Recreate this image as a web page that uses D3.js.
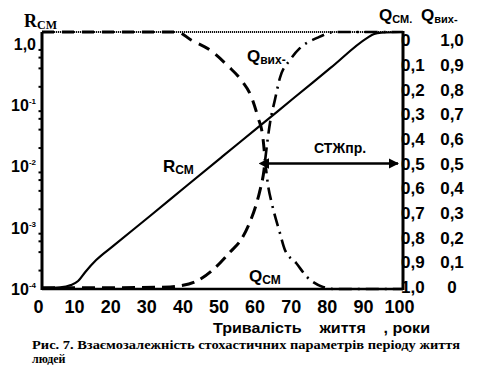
<!DOCTYPE html>
<html><head><meta charset="utf-8">
<script src="https://cdn.jsdelivr.net/npm/d3@7"></script>
<style>
body{margin:0;background:#fff}
text{font-family:"Liberation Sans",Arial,sans-serif;font-weight:bold;fill:#000}
.serif{font-family:"Liberation Serif","Times New Roman",serif}
</style>
</head><body>
<svg id="c" width="491" height="384"></svg>
<script>
// ---- data ----
const xTicks = [0,10,20,30,40,50,60,70,80,90,100];
const rTickValues = [1, 1e-1, 1e-2, 1e-3, 1e-4];
const rTickExp = [null, "-1", "-2", "-3", "-4"];
const qcmTickLabels = ["0","0,1","0,2","0,3","0,4","0,5","0,6","0,7","0,8","0,9","1,0"];
const qvykhTickLabels = ["1,0","0,9","0,8","0,7","0,6","0,5","0,4","0,3","0,2","0,1","0"];

// R_CM (log scale)
const rAges   = [0, 5, 8, 10, 12, 15, 20, 30, 40, 50, 60, 70, 80, 90, 92, 94, 100];
const rValues = [1.03e-4, 1.06e-4, 1.16e-4, 1.35e-4, 1.9e-4, 2.97e-4, 5.2e-4, 1.57e-3, 4.8e-3, 0.0146, 0.0443, 0.135, 0.41, 1.25, 1.46, 1.53, 1.57];

// Q curves, in Q_CM axis units (0 at top, 1 at bottom)
const qTopLeftAges  = [0, 20, 37.4, 41.3, 46.5, 51.5, 55.4, 57.9, 59.8, 61.2, 61.8];
const qTopLeftVals  = [0, 0, 0, 0.031, 0.07, 0.132, 0.191, 0.249, 0.331, 0.412, 0.5];
const qTopRightAges = [61.8, 63.2, 64.5, 65.9, 68.7, 71.5, 76.2, 81.2, 100];
const qTopRightVals = [0.5, 0.35, 0.265, 0.179, 0.109, 0.062, 0.023, 0, 0];
const qBotLeftAges  = [0, 20, 35.5, 38.2, 42.9, 47.9, 52.1, 55.1, 57.6, 59.3, 60.4, 61.5, 61.8];
const qBotLeftVals  = [0.995, 0.995, 0.992, 0.988, 0.969, 0.918, 0.856, 0.809, 0.739, 0.673, 0.615, 0.537, 0.5];
const qBotRightAges = [61.8, 62.6, 63.7, 65.9, 67.3, 70.4, 73.4, 77.8, 81.2, 100];
const qBotRightVals = [0.5, 0.595, 0.669, 0.782, 0.848, 0.899, 0.953, 0.992, 1, 1];

const stzhAge = 61.8;   // СТЖпр.
const stzhQ = 0.5;

// ---- layout ----
const svg = d3.select("#c");
const L = 42, R = 403, T = 32, B = 289;
const x = d3.scaleLinear().domain([0,100]).range([L,R]);
const yR = d3.scaleLog().domain([1e-4, 1.57]).range([B,T]);
const yQ = d3.scaleLinear().domain([0,1]).range([T,B]);
const yQLabel = d3.scaleLinear().domain([0,1]).range([40,287]);

// frame
svg.append("line").attr("x1",L).attr("x2",R).attr("y1",T).attr("y2",T)
  .attr("stroke","#111").attr("stroke-width",1.8).attr("stroke-dasharray","1.2,0.8");
svg.append("line").attr("x1",L).attr("x2",R).attr("y1",B).attr("y2",B)
  .attr("stroke","#000").attr("stroke-width",2.5);
svg.append("line").attr("x1",L).attr("x2",L).attr("y1",T).attr("y2",B+1)
  .attr("stroke","#000").attr("stroke-width",3);
svg.append("line").attr("x1",R).attr("x2",R).attr("y1",T-1).attr("y2",B+1)
  .attr("stroke","#000").attr("stroke-width",3);

// minor ticks on left axis
const minor = [];
for (let e=-4; e<0; e++) for (let m=2; m<10; m+=2) minor.push(m*Math.pow(10,e));
svg.append("g").selectAll("line").data(minor).join("line")
  .attr("x1",L-3.5).attr("x2",L).attr("y1",d=>yR(d)).attr("y2",d=>yR(d))
  .attr("stroke","#000").attr("stroke-width",2);

// x axis
const xAxis = d3.axisBottom(x).tickValues(xTicks).tickSize(0).tickPadding(11).tickFormat(d3.format("d"));
const gx = svg.append("g").attr("transform",`translate(-4,${B})`).call(xAxis);
gx.select(".domain").remove();
gx.selectAll("text").style("font-size","18px").style("font-family","Liberation Sans, Arial, sans-serif").style("font-weight","bold").attr("fill","#000");

// left labels
const gl = svg.append("g");
rTickValues.forEach((v,i)=>{
  const t = gl.append("text").attr("x",36).attr("y",yR(v)).attr("dy","0.36em")
    .attr("text-anchor","end").style("font-size","16px");
  if (rTickExp[i]===null) { t.text("1,0"); }
  else {
    t.append("tspan").text("10");
    t.append("tspan").text(rTickExp[i]).style("font-size","8px").attr("dy","-7");
  }
});

// right labels
svg.append("g").selectAll("text").data(qcmTickLabels).join("text")
  .attr("x",R-2).attr("y",(d,i)=>yQLabel(i/10)).attr("dy","0.36em")
  .style("font-size","17px").text(d=>d);
svg.append("g").selectAll("text").data(qvykhTickLabels).join("text")
  .attr("x",452).attr("y",(d,i)=>yQLabel(i/10)).attr("dy","0.36em")
  .attr("text-anchor","middle").style("font-size","17px").text(d=>d);

// curves
const lineR = d3.line().x(d=>x(d[0])).y(d=>yR(d[1])).curve(d3.curveMonotoneX);
const lineQ = d3.line().x(d=>x(d[0])).y(d=>yQ(d[1])).curve(d3.curveMonotoneX);
const zip = (a,b)=>a.map((v,i)=>[v,b[i]]);

svg.append("path").datum(zip(qTopLeftAges,qTopLeftVals)).attr("d",lineQ)
  .attr("fill","none").attr("stroke","#000").attr("stroke-width",3).attr("stroke-dasharray","12,8");
svg.append("path").datum(zip(qBotLeftAges,qBotLeftVals)).attr("d",lineQ)
  .attr("fill","none").attr("stroke","#000").attr("stroke-width",3).attr("stroke-dasharray","13,7");
svg.append("path").datum(zip(qTopRightAges,qTopRightVals)).attr("d",lineQ)
  .attr("fill","none").attr("stroke","#000").attr("stroke-width",2.6).attr("stroke-dasharray","13,6,2,6");
svg.append("path").datum(zip(qBotRightAges,qBotRightVals)).attr("d",lineQ)
  .attr("fill","none").attr("stroke","#000").attr("stroke-width",2.6).attr("stroke-dasharray","13,6,2,6");
svg.append("path").datum(zip(rAges,rValues)).attr("d",lineR)
  .attr("fill","none").attr("stroke","#000").attr("stroke-width",2.2);

// arrow СТЖпр.
const defs = svg.append("defs");
["s","e"].forEach(k=>{
  defs.append("marker").attr("id","m"+k).attr("viewBox","0 0 10 10").attr("refX",k==="e"?9:1).attr("refY",5)
    .attr("markerWidth",4).attr("markerHeight",4).attr("orient","auto-start-reverse")
    .append("path").attr("d","M0,0L10,5L0,10z").attr("fill","#000");
});
const yArrow = yQLabel(stzhQ);
svg.append("line").attr("x1",x(stzhAge)+3).attr("x2",R-5).attr("y1",yArrow).attr("y2",yArrow)
  .attr("stroke","#000").attr("stroke-width",2.6)
  .attr("marker-start","url(#ms)").attr("marker-end","url(#me)");
svg.append("text").attr("x",340).attr("y",153).attr("text-anchor","middle").style("font-size","14px").text("СТЖпр.");

// series labels
function subLabel(main, sub, xx, yy, fs, sfs, cls){
  const t = svg.append("text").attr("x",xx).attr("y",yy).style("font-size",fs+"px");
  if (cls) t.attr("class",cls);
  t.append("tspan").text(main);
  t.append("tspan").text(sub).style("font-size",sfs+"px").attr("dy",2);
  return t;
}
subLabel("R","СМ",24,27,18,12,"serif");
subLabel("R","СМ",163,172,17,12);
subLabel("Q","вих-",247,62,17,12);
subLabel("Q","СМ",249,282,17,12);
subLabel("Q","СМ.",379,21,17,11);
subLabel("Q","вих-",421,21,17,11);

// titles
svg.append("text").attr("x",213).attr("y",333).style("font-size","14px").style("white-space","pre")
  .attr("textLength",217).attr("lengthAdjust","spacingAndGlyphs")
  .text("Тривалість    життя    , роки");
svg.append("text").attr("class","serif").attr("x",32).attr("y",349).style("font-size","12px")
  .attr("textLength",428).attr("lengthAdjust","spacingAndGlyphs")
  .text("Рис. 7. Взаємозалежність стохастичних параметрів періоду життя");
svg.append("text").attr("class","serif").attr("x",32).attr("y",363).style("font-size","12px")
  .text("людей");
</script>
</body></html>
